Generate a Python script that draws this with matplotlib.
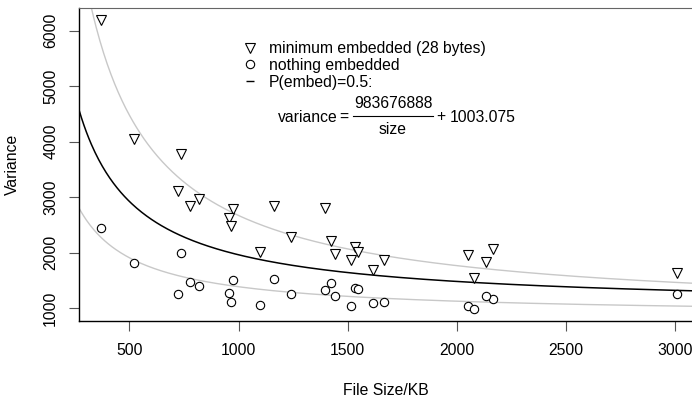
#import libraries
import numpy as np
import matplotlib
matplotlib.use("Agg")
import matplotlib.pyplot as plt
from matplotlib.lines import Line2D

plt.rcParams['font.family'] = ['Liberation Sans', 'DejaVu Sans']

#File sizes (KB) and the measured variances
size_kb = [371, 521, 736, 722, 818, 777, 974, 956, 965, 1098, 1162, 1396, 1240,
           1423, 1440, 1536, 1549, 1515, 1666, 1616, 2053, 2166, 2134, 2079, 3009]
var_min = [6193, 4049, 3779, 3113, 2969, 2843, 2789, 2626, 2482, 2014, 2843, 2807, 2284,
           2212, 1978, 2104, 2014, 1870, 1870, 1690, 1960, 2068, 1834, 1546, 1636]
var_none = [2446, 1816, 1996, 1258, 1402, 1474, 1510, 1276, 1113, 1059, 1528, 1330, 1258,
            1456, 1222, 1366, 1348, 1041, 1113, 1095, 1041, 1168, 1222, 987, 1258]

#Fitted curves: variance = a / size + b  (size in bytes)
fit_half = (983676888, 1003.075)
fit_min = (1.85e9, 865)
fit_none = (5.34e8, 867)

x_lim = (269, 3078)
y_lim = (771, 6409)
W, H = 692, 397
FS = 11.3

fig = plt.figure(figsize=(W/100, H/100), dpi=100)
ax = fig.add_axes([79/W, 1 - 321/H, 1 - 79/W, (321 - 8)/H])

xs = np.linspace(x_lim[0], x_lim[1], 500)
for (a, b), col, lw in [(fit_min, '#c8c8c8', 1.0), (fit_none, '#c8c8c8', 1.0), (fit_half, 'black', 1.1)]:
    ax.plot(xs, a/(xs*1024) + b, color=col, lw=lw, zorder=1)

ax.plot(size_kb, var_min, linestyle='none', marker='v', ms=7.5, mfc='white', mec='black', mew=0.8, zorder=3)
ax.plot(size_kb, var_none, linestyle='none', marker='o', ms=6, mfc='white', mec='black', mew=0.8, zorder=3)

ax.set_xlim(*x_lim)
ax.set_ylim(*y_lim)
ax.set_xticks([500, 1000, 1500, 2000, 2500, 3000])
ax.set_yticks([1000, 2000, 3000, 4000, 5000, 6000])
ax.tick_params(axis='both', direction='out', length=7, width=0.8, color='#555555', labelsize=FS)
ax.tick_params(axis='x', pad=9)
ax.tick_params(axis='y', pad=8, labelrotation=90)
for lbl in ax.get_yticklabels():
    lbl.set_va('center')

ax.spines['right'].set_visible(False)
ax.spines['top'].set_color('#666666')
ax.spines['left'].set_linewidth(1.0)
ax.spines['bottom'].set_linewidth(1.0)

ax.set_xlabel("File Size/KB", fontsize=FS, labelpad=18)
ax.set_ylabel("Variance", fontsize=FS, labelpad=17)

#Legend
handles = [Line2D([], [], linestyle='none', marker='v', ms=7.5, mfc='white', mec='black', mew=0.8),
           Line2D([], [], linestyle='none', marker='o', ms=6, mfc='white', mec='black', mew=0.8),
           Line2D([], [], linestyle='none', marker='_', ms=6, mec='black', mew=1.0)]
labels = ["minimum embedded (28 bytes)", "nothing embedded", "P(embed)=0.5:"]
fig.legend(handles, labels, loc='upper left', bbox_to_anchor=(242/W, 1 - 41/H),
           frameon=False, fontsize=FS, handlelength=1.0, handletextpad=0.72,
           labelspacing=0.12, borderpad=0, borderaxespad=0)

#Formula of the P(embed)=0.5 curve, written as a stacked fraction
def put(x, y, s, ha='left'):
    fig.text(x/W, 1 - y/H, s, fontsize=FS, ha=ha, va='center')

put(278, 117, "variance")
put(339, 117, "=")
put(393, 103, "983676888", ha='center')
put(393, 129, "size", ha='center')
fig.add_artist(Line2D([353/W, 433/W], [1 - 116/H, 1 - 116/H], color='black', lw=0.8))
put(436, 117, "+")
put(450, 117, "1003.075")

fig.savefig("out.png", dpi=100)
